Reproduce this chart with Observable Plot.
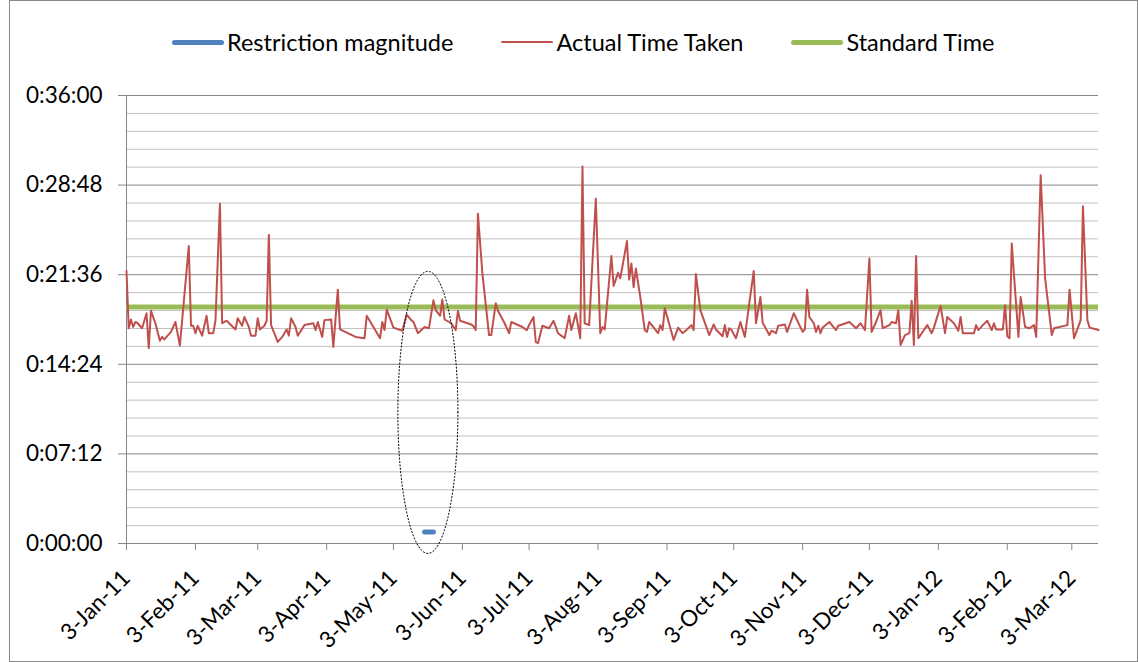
<!DOCTYPE html>
<html><head><meta charset="utf-8">
<script src="https://cdn.jsdelivr.net/npm/d3@7"></script>
<script src="https://cdn.jsdelivr.net/npm/@observablehq/plot@0.6"></script>
<style>
body{margin:0;background:#fff;font-family:Lato,sans-serif;}
#chart{position:relative;width:1138px;height:662px;overflow:hidden;background:#fff;}
#frame{position:absolute;left:9px;top:0;width:1127px;height:660px;border:1px solid #878787;}
#legend{position:absolute;left:172px;top:28px;display:flex;align-items:center;font-size:23.5px;color:#000;white-space:nowrap;}
.item{display:flex;align-items:center;margin-right:48px}
.sw{display:inline-block;width:52px;margin-right:3px;border-radius:3px}
#plot{position:absolute;left:1px;top:71px;}
g[aria-label="x-axis tick"], g[aria-label="y-axis tick"]{stroke:#868686;}
</style></head><body>
<div id="chart"><div id="frame"></div><div id="legend"></div><div id="plot"></div></div>
<script>
// ---- data ----
const startDate = "2011-01-03";
const endDay = 437;
// [day offset from 3-Jan-11, minutes]
const actualTime = [
 [0,21.9],[1,17.3],[2,18.0],[3,17.4],[4,17.8],[5,17.7],[6,17.5],[7,17.3],[9,18.5],[10,15.7],[11,18.7],[13,17.7],[15,16.3],[16,16.6],[17,16.4],[20,17.0],[22,17.8],[24,15.9],[28,23.9],[29,17.5],
 [30,17.5],[31,16.9],[32,17.5],[34,16.7],[36,18.3],[37,16.9],[39,16.9],[40,17.9],[42,27.3],[43,17.7],[45,17.9],[49,17.2],[50,18.1],[52,17.5],[53,18.2],[55,17.4],[56,16.7],[58,16.7],[59,18.1],
 [60,17.2],[62,17.5],[63,17.9],[64,24.8],[65,17.55],[68,16.2],[70,16.6],[71,16.9],[72,17.2],[73,16.7],[74,18.1],[76,17.4],[77,16.7],[80,17.55],[84,17.7],[85,17.15],[86,17.8],[88,16.6],[89,17.95],
 [92,18.0],[93,15.8],[95,20.4],[96,17.2],[103,16.6],[107,16.5],[108,18.3],[114,16.5],[115,17.8],[116,17.15],[117,18.8],[120,17.35],[124,17.1],[126,18.4],[128,17.95],[129,17.8],[131,16.9],
 [134,17.4],[136,17.3],[138,19.55],[139,18.75],[141,18.3],[142,19.6],[143,18.0],[146,17.7],[148,17.15],[149,18.7],[150,17.9],[155,17.6],[156,17.45],[157,17.15],[158,26.5],[160,21.7],
 [163,16.75],[164,16.75],[166,19.3],[167,18.7],[170,17.7],[172,16.9],[173,17.8],[178,17.4],[180,17.15],[181,17.55],[183,18.2],[184,16.2],[185,16.1],[187,17.5],[190,17.3],[192,17.9],
 [194,16.9],[197,16.5],[199,18.3],[200,17.15],[202,18.5],[204,16.5],[205,30.3],[206,17.7],[208,17.55],[211,27.7],[213,16.9],[214,17.4],[215,17.2],[218,23.1],[219,20.7],[221,21.75],
 [222,21.3],[225,24.3],[226,21.2],[227,22.5],[228,20.6],[229,22.1],[231,19.8],[233,17.15],[234,17.0],[235,17.8],[239,16.9],[240,17.55],[241,17.15],[242,18.9],[246,16.35],[248,17.35],
 [250,16.9],[252,17.2],[254,17.55],[255,17.15],[256,21.65],[258,18.75],[262,16.75],[264,17.6],[265,17.2],[268,16.65],[269,17.55],[270,16.6],[271,17.3],[272,17.15],[274,16.5],[276,17.8],
 [278,16.6],[280,19.3],[282,21.9],[283,17.7],[285,19.8],[286,17.75],[289,16.75],[290,17.1],[292,16.9],[293,17.5],[296,17.6],[297,17.0],[300,18.5],[304,17.0],[305,17.2],[306,20.4],
 [307,18.2],[309,17.7],[310,17.0],[311,17.5],[312,16.9],[313,17.35],[316,17.8],[319,17.15],[320,17.5],[325,17.8],[328,17.3],[330,17.7],[332,17.15],[334,22.9],[335,17.0],[337,17.8],
 [339,18.75],[340,17.3],[343,17.55],[344,17.8],[346,17.7],[347,18.75],[348,15.95],[350,16.75],[352,16.9],[353,19.5],[354,15.95],[355,23.1],[356,16.5],[357,16.75],[360,17.55],[362,16.9],
 [363,17.35],[366,19.1],[368,16.9],[369,18.2],[372,17.7],[374,17.1],[375,18.2],[376,16.9],[381,16.9],[382,17.55],[383,17.15],[385,17.55],[387,17.9],[389,17.15],[390,17.7],[391,17.2],
 [394,17.2],[395,19.15],[396,16.65],[397,16.5],[398,24.1],[401,16.6],[402,19.8],[404,17.4],[406,17.3],[408,17.55],[409,16.6],[411,29.6],[413,21.3],[416,16.75],[417,17.3],[423,17.55],
 [424,20.4],[426,16.5],[429,17.95],[430,27.1],[432,17.95],[433,17.35],[437,17.15]
];
const standardSeconds = 1140;           // 0:19:00
const restriction = [[134,55],[138,55]]; // [day offset, seconds]
const xTickDates = ["2011-01-03","2011-02-03","2011-03-03","2011-04-03","2011-05-03","2011-06-03","2011-07-03","2011-08-03","2011-09-03","2011-10-03","2011-11-03","2011-12-03","2012-01-03","2012-02-03","2012-03-03"];
const yMax = 2160, yMajorStep = 432, yMinorStep = 86.4;
// annotation ellipse (data space): centre day / seconds, radii in days / seconds
const ellipseCentre = [135.5, 632];
const ellipseRadii = [13.5, 680];

const legendItems = [
  {label:"Restriction magnitude", color:"#4f81bd", h:5},
  {label:"Actual Time Taken", color:"#c0504d", h:2},
  {label:"Standard Time", color:"#9bbb59", h:5}
];

// ---- build ----
const start = new Date(startDate + "T00:00:00Z");
const dayToDate = d => new Date(start.getTime() + d * 864e5);
const actualRows = actualTime.map(([d, m]) => ({date: dayToDate(d), sec: m * 60}));
const restrictionRows = restriction.map(([d, s]) => ({date: dayToDate(d), sec: s}));
const majorTicks = d3.range(0, yMax + 1, yMajorStep);
const minorTicks = d3.range(0, 26).map(i => i * yMinorStep).filter(v => v <= yMax + 0.1 && majorTicks.every(t => Math.abs(t - v) > 0.1));
const ellipseRows = d3.range(0, 121).map(i => {
  const t = i / 120 * 2 * Math.PI;
  return {date: dayToDate(ellipseCentre[0] + ellipseRadii[0] * Math.cos(t)), sec: ellipseCentre[1] + ellipseRadii[1] * Math.sin(t)};
});
const fmt = s => {
  const t = Math.round(s), h = Math.floor(t / 3600), m = Math.floor(t % 3600 / 60), sec = t % 60;
  return `${h}:${String(m).padStart(2, "0")}:${String(sec).padStart(2, "0")}`;
};

const legend = document.getElementById("legend");
for (const it of legendItems) {
  const div = document.createElement("div"); div.className = "item";
  const sw = document.createElement("span"); sw.className = "sw";
  sw.style.background = it.color; sw.style.height = it.h + "px";
  const tx = document.createElement("span"); tx.textContent = it.label;
  div.append(sw, tx); legend.append(div);
}

const chart = Plot.plot({
  width: 1136, height: 590,
  marginLeft: 125, marginRight: 39, marginTop: 24, marginBottom: 118,
  style: {fontFamily: "Lato, sans-serif", fontSize: "22.5px", color: "#000", background: "transparent", overflow: "visible"},
  x: {type: "utc", domain: [start, dayToDate(endDay)], ticks: xTickDates.map(s => new Date(s + "T00:00:00Z")),
      tickFormat: d3.utcFormat("%-d-%b-%y"), tickRotate: -45, tickSize: 7, tickPadding: 24, label: null},
  y: {domain: [0, yMax], ticks: majorTicks, tickFormat: fmt, tickSize: 8, tickPadding: 16, label: null},
  marks: [
    Plot.ruleY(minorTicks, {stroke: "#c0c0c0", strokeWidth: 1}),
    Plot.ruleY(majorTicks, {stroke: "#868686", strokeWidth: 1}),
    Plot.ruleX([start], {stroke: "#868686", strokeWidth: 1}),
    Plot.ruleY([standardSeconds], {stroke: "#9bbb59", strokeWidth: 5}),
    Plot.line(actualRows, {x: "date", y: "sec", stroke: "#c0504d", strokeWidth: 2, strokeLinejoin: "round"}),
    Plot.line(restrictionRows, {x: "date", y: "sec", stroke: "#4f81bd", strokeWidth: 5, strokeLinecap: "round"}),
    Plot.line(ellipseRows, {x: "date", y: "sec", stroke: "#000", strokeWidth: 1, strokeDasharray: "1.2,2.2", curve: "linear"})
  ]
});
document.getElementById("plot").append(chart);
</script>
</body></html>
